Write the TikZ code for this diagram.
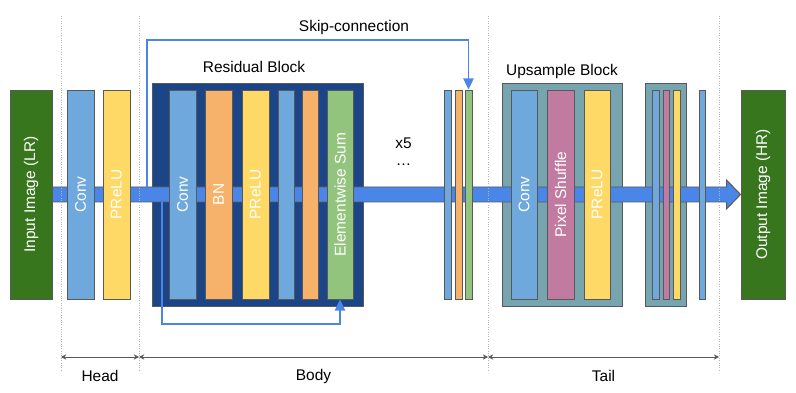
\documentclass[tikz,border=0pt]{standalone}
\usepackage{fontspec}
\setmainfont{Liberation Sans}
\usepackage{xcolor}
\usepackage{graphicx}
\usepackage{tikz}
\usetikzlibrary{arrows.meta, calc}

\definecolor{imggreen}{HTML}{38761D}
\definecolor{convblue}{HTML}{6FA8DC}
\definecolor{preluyellow}{HTML}{FFD966}
\definecolor{bnorange}{HTML}{F6B26B}
\definecolor{sumgreen}{HTML}{93C47D}
\definecolor{shufflepink}{HTML}{C27BA0}
\definecolor{resblue}{HTML}{1C4587}
\definecolor{upteal}{HTML}{76A5AF}
\definecolor{flowblue}{HTML}{4A86E8}
\definecolor{edgegray}{HTML}{595959}
\definecolor{sepgray}{HTML}{B7B7B7}

\newcommand{\vlabel}[1]{\rotatebox{90}{#1}}

\begin{document}
\begin{tikzpicture}[x=0.025cm, y=-0.025cm,
    every node/.style={font=\fontsize{11}{13}\selectfont},
    box/.style={draw=edgegray, line width=0.7pt, inner sep=0pt, text=white,
                minimum height=209*0.025cm},
    barw/.style={minimum width=#1*0.025cm},
    block/.style={draw=edgegray, line width=0.7pt, inner sep=0pt,
                  minimum height=223*0.025cm},
    flowband/.style={draw=edgegray, line width=0.7pt, fill=flowblue},
    skip/.style={draw=flowblue, line width=1.2pt,
                 -{Triangle[length=2.8mm, width=2.6mm]}},
    sep/.style={draw=sepgray, line width=0.7pt, densely dotted},
    span/.style={draw=edgegray, line width=0.7pt,
                 {Stealth[length=1.3mm, width=1.3mm]}-{Stealth[length=1.3mm, width=1.3mm]}}
]
    \useasboundingbox (0,0) rectangle (796,393);

    % Input and output images
    \node[box, barw=42, fill=imggreen] (input) at (31,194.5) {\vlabel{Input Image (LR)}};
    \node[box, barw=44, fill=imggreen] (output) at (763,194.5) {\vlabel{Output Image (HR)}};

    % Block backgrounds
    \node[block, barw=211, fill=resblue] (resblock) at (257.5,194.5) {};
    \node[block, barw=120, fill=upteal] (upblock) at (562,195) {};
    \node[block, barw=41, fill=upteal] (upblock2) at (665.5,195) {};
    \node (reslabel) at (254,67) {Residual Block};
    \node (uplabel) at (562,72) {Upsample Block};

    % Main data flow
    \draw[flowband] ($(input.east)+(0,-7.5)$) -- ($(output.west)+(-14,-7.5)$)
        -- ($(output.west)+(-14,-14.5)$) -- (output.west)
        -- ($(output.west)+(-14,14.5)$) -- ($(output.west)+(-14,7.5)$)
        -- ($(input.east)+(0,7.5)$) -- cycle;

    % Head
    \node[box, barw=27, fill=convblue] (hconv) at (80.5,194.5) {\vlabel{Conv}};
    \node[box, barw=27, fill=preluyellow] (hprelu) at (116.5,194.5) {\vlabel{PReLU}};

    % Residual block
    \node[box, barw=27, fill=convblue] (rconv) at (182.5,194.5) {\vlabel{Conv}};
    \node[box, barw=27, fill=bnorange] (rbn) at (218.5,194.5) {\vlabel{BN}};
    \node[box, barw=27, fill=preluyellow] (rprelu) at (255.5,194.5) {\vlabel{PReLU}};
    \node[box, barw=16, fill=convblue] (rconvb) at (286,194.5) {};
    \node[box, barw=16, fill=bnorange] (rbnb) at (310,194.5) {};
    \node[box, barw=26, fill=sumgreen] (rsum) at (340,194.5) {\vlabel{Elementwise Sum}};

    % Repeated blocks
    \node (times) at (403.5,143) {x5};
    \node (dots) at (403.5,165) {…};
    \node[box, barw=7, fill=convblue] (tconv) at (447.5,194.5) {};
    \node[box, barw=7, fill=bnorange] (tbn) at (458.5,194.5) {};
    \node[box, barw=7, fill=sumgreen] (tsum) at (468.5,194.5) {};

    % Upsample blocks
    \node[box, barw=26, fill=convblue] (uconv) at (524,194.5) {\vlabel{Conv}};
    \node[box, barw=27, fill=shufflepink] (ushuffle) at (560.5,194.5) {\vlabel{Pixel Shuffle}};
    \node[box, barw=26, fill=preluyellow] (uprelu) at (597,194.5) {\vlabel{PReLU}};
    \node[box, barw=7, fill=convblue] (uconvb) at (655.5,194.5) {};
    \node[box, barw=6, fill=shufflepink] (ushuffleb) at (666,194.5) {};
    \node[box, barw=7, fill=preluyellow] (upralub) at (676.5,194.5) {};
    \node[box, barw=6, fill=convblue] (lastconv) at (702,194.5) {};

    % Skip connections
    \coordinate (skipfrom) at (147,187);
    \coordinate (skiptop) at (147,40);
    \draw[skip] (skipfrom) -- (skiptop) -| (tsum.north);
    \node (skiplabel) at (354,28) {Skip-connection};

    \coordinate (loopfrom) at (162,202);
    \coordinate (loopbot) at (162,324);
    \draw[skip] (loopfrom) -- (loopbot) -| (rsum.south);

    % Sections
    \foreach \x [count=\i] in {61,139,488,719} {
        \draw[sep] (\x,16) -- (\x,372);
        \coordinate (d\i) at (\x,357);
    }
    \draw[span] (d1) -- (d2);
    \draw[span] (d2) -- (d3);
    \draw[span] (d3) -- (d4);
    \node (head) at (100,376) {Head};
    \node (body) at (313.5,376) {Body};
    \node (tail) at (603.5,376) {Tail};

\end{tikzpicture}
\end{document}
